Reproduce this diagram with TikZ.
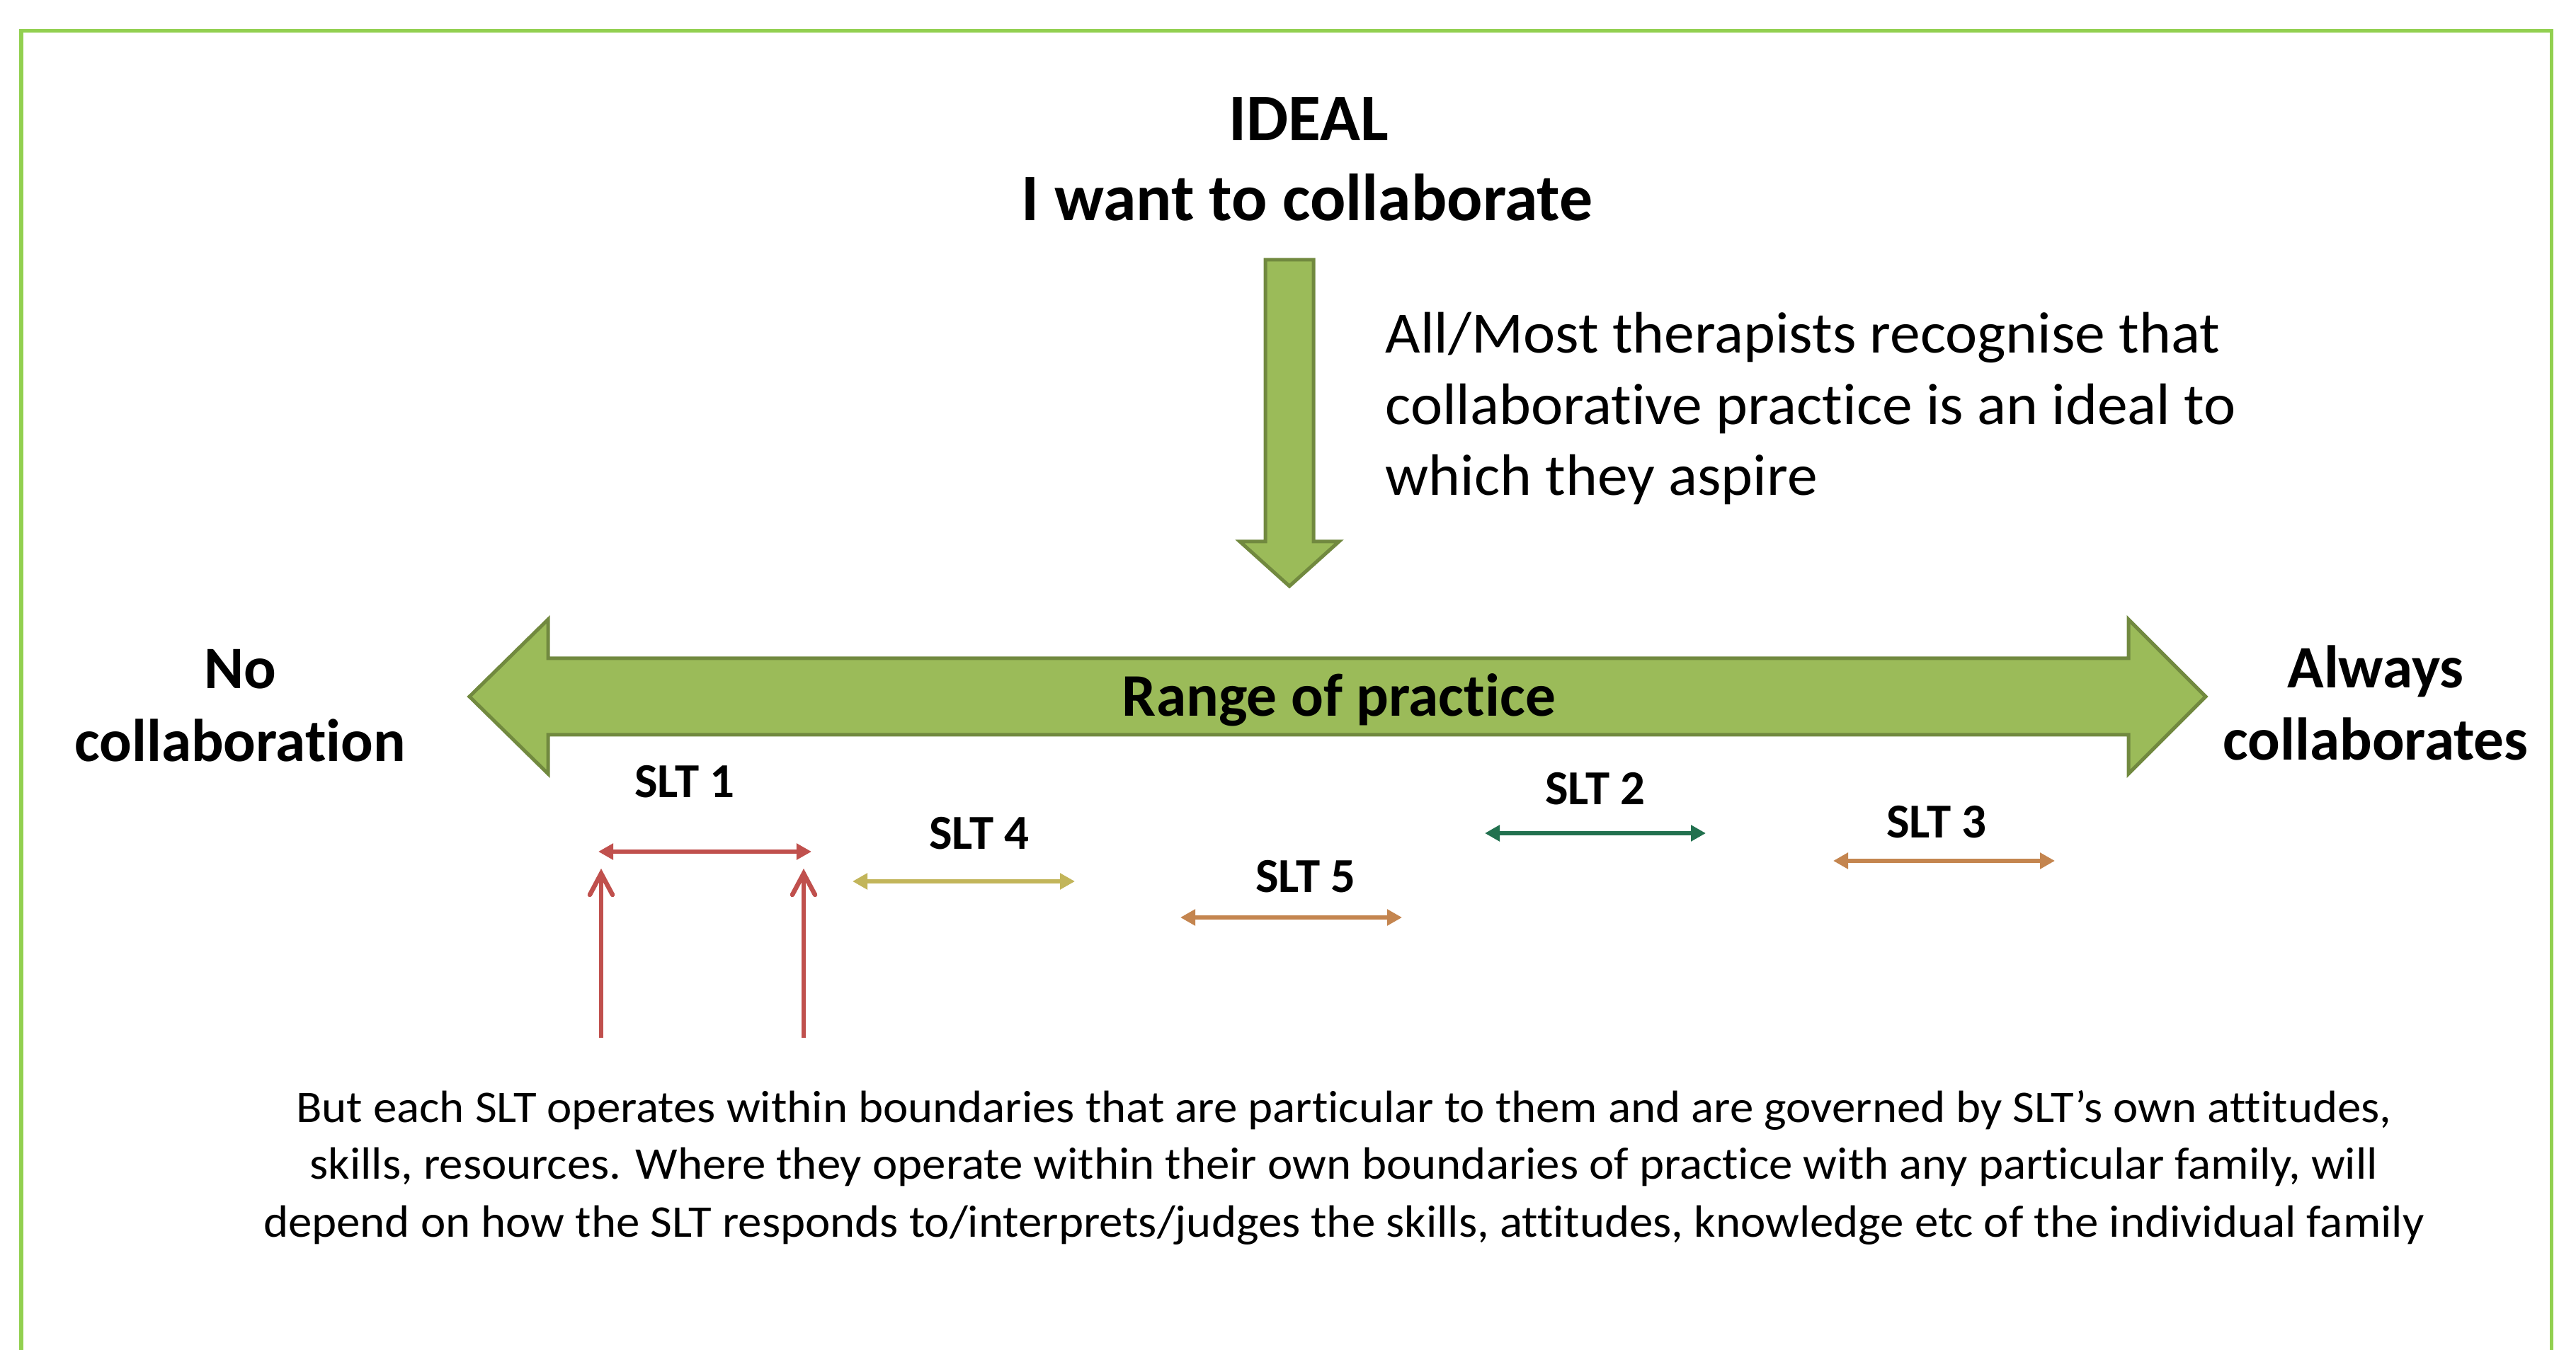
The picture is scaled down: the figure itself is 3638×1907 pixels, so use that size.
\documentclass[tikz,border=0pt]{standalone}
\usepackage{fontspec}
\setmainfont{Carlito}[Ligatures=NoCommon]
\newfontfamily\parafont{Carlito}[Ligatures=NoCommon,FakeStretch=1.045]
\newfontfamily\notefont{Carlito}[Ligatures=NoCommon,FakeStretch=1.035]
\usetikzlibrary{arrows.meta}
\definecolor{framegreen}{HTML}{92D050}
\definecolor{arrowfill}{HTML}{9BBB59}
\definecolor{arrowedge}{HTML}{71893F}
\definecolor{sltred}{HTML}{C0504D}
\definecolor{sltgreen}{HTML}{22714F}
\definecolor{sltbrown}{HTML}{C4854F}
\definecolor{sltolive}{HTML}{C2B55A}
\begin{document}
\begin{tikzpicture}[x=0.01cm,y=-0.01cm,
  titletext/.style={font=\fontsize{26.7pt}{30pt}\selectfont\bfseries,anchor=base,inner sep=0pt},
  endtext/.style={font=\fontsize{24.2pt}{28pt}\selectfont\bfseries,anchor=base,inner sep=0pt},
  rangetext/.style={font=\fontsize{24.3pt}{28pt}\selectfont\bfseries,anchor=base,inner sep=0pt},
  slttext/.style={font=\fontsize{19.6pt}{23pt}\selectfont\bfseries,anchor=base,inner sep=0pt},
  notetext/.style={font=\notefont\fontsize{23.5pt}{27pt}\selectfont,anchor=base west,inner sep=0pt},
  paratext/.style={font=\parafont\fontsize{18.2pt}{21pt}\selectfont,anchor=base,inner sep=0pt},
  bigarrow/.style={fill=arrowfill,draw=arrowedge,line width=0.05cm,line join=miter},
  sltspan/.style={line width=0.065cm,{Triangle[length=0.21cm,width=0.22cm]}-{Triangle[length=0.21cm,width=0.22cm]}},
  boundary/.style={draw=sltred,line width=0.065cm,-{Straight Barb[length=0.3cm,width=0.32cm,line cap=round]}}
]
\useasboundingbox (0,0) rectangle (3638,1907);
\fill[white] (0,0) rectangle (3638,1907);
% frame
\draw[framegreen,line width=0.05cm] (30,1907) -- (30,44) -- (3603,44) -- (3603,1907);

% title
\node[titletext] (ideal) at (1848,199) {IDEAL};
\node[titletext] (want) at (1846,312) {I want to collaborate};

% down arrow
\draw[bigarrow] (1787,367) -- (1855,367) -- (1855,765) -- (1891,765) -- (1821,828) -- (1751,765) -- (1787,765) -- cycle;

% note
\node[notetext] (note1) at (1956,499) {All/Most therapists recognise that};
\node[notetext] (note2) at (1956,600) {collaborative practice is an ideal to};
\node[notetext] (note3) at (1956,700) {which they aspire};

% range double arrow
\draw[bigarrow] (663,984) -- (774,875) -- (774,930) -- (3006,930) -- (3006,875) -- (3115,984) -- (3006,1093) -- (3006,1038) -- (774,1038) -- (774,1093) -- cycle;
\node[rangetext] (range) at (1891,1012) {Range of practice};

% end labels
\node[endtext] (no1) at (339,973) {No};
\node[endtext] (no2) at (339,1076) {collaboration};
\node[endtext] (al1) at (3355,972) {Always};
\node[endtext] (al2) at (3355,1074) {collaborates};

% SLT labels
\node[slttext] (slt1) at (967,1127) {SLT 1};
\node[slttext] (slt4) at (1383,1200) {SLT 4};
\node[slttext] (slt5) at (1844,1261) {SLT 5};
\node[slttext] (slt2) at (2253,1137) {SLT 2};
\node[slttext] (slt3) at (2735,1184) {SLT 3};

% SLT ranges
\coordinate (s1a) at (845,1203); \coordinate (s1b) at (1146,1203);
\coordinate (s4a) at (1204,1245); \coordinate (s4b) at (1518,1245);
\coordinate (s5a) at (1667,1296); \coordinate (s5b) at (1980,1296);
\coordinate (s2a) at (2097,1177); \coordinate (s2b) at (2409,1177);
\coordinate (s3a) at (2589,1216); \coordinate (s3b) at (2902,1216);
\draw[sltspan,sltred] (s1a) -- (s1b);
\draw[sltspan,sltolive] (s4a) -- (s4b);
\draw[sltspan,sltbrown] (s5a) -- (s5b);
\draw[sltspan,sltgreen] (s2a) -- (s2b);
\draw[sltspan,sltbrown] (s3a) -- (s3b);

% boundary arrows
\coordinate (b1s) at (849,1466); \coordinate (b1e) at (849,1227);
\coordinate (b2s) at (1135,1466); \coordinate (b2e) at (1135,1227);
\draw[boundary] (b1s) -- (b1e);
\draw[boundary] (b2s) -- (b2e);

% paragraph
\node[paratext] (p1) at (1898,1585) {But each SLT operates within boundaries that are particular to them and are governed by SLT’s own attitudes,};
\node[paratext] (p2) at (1898,1665) {skills, resources. Where they operate within their own boundaries of practice with any particular family, will};
\node[paratext] (p3) at (1898,1747) {depend on how the SLT responds to/interprets/judges the skills, attitudes, knowledge etc of the individual family};
\end{tikzpicture}
\end{document}
